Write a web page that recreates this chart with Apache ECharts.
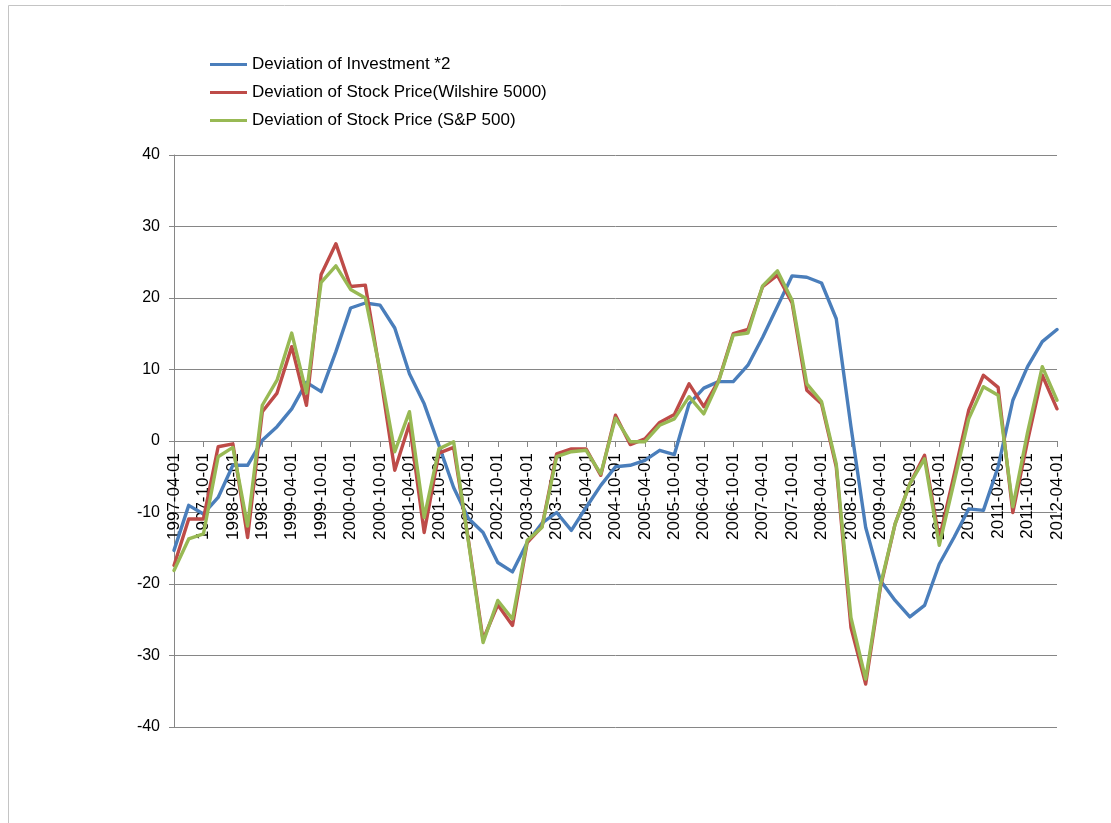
<!DOCTYPE html>
<html>
<head>
<meta charset="utf-8">
<title>Deviation of Investment and Stock Prices</title>
<script src="https://cdn.jsdelivr.net/npm/echarts@6/dist/echarts.min.js"></script>
<style>
  html, body { margin: 0; padding: 0; background: #ffffff; }
  #chart { width: 1111px; height: 823px; }
</style>
</head>
<body>
<div id="chart"></div>
<script>
// Quarterly observation dates
var quarters = [
  '1997-04-01','1997-07-01','1997-10-01','1998-01-01','1998-04-01','1998-07-01','1998-10-01','1999-01-01',
  '1999-04-01','1999-07-01','1999-10-01','2000-01-01','2000-04-01','2000-07-01','2000-10-01','2001-01-01',
  '2001-04-01','2001-07-01','2001-10-01','2002-01-01','2002-04-01','2002-07-01','2002-10-01','2003-01-01',
  '2003-04-01','2003-07-01','2003-10-01','2004-01-01','2004-04-01','2004-07-01','2004-10-01','2005-01-01',
  '2005-04-01','2005-07-01','2005-10-01','2006-01-01','2006-04-01','2006-07-01','2006-10-01','2007-01-01',
  '2007-04-01','2007-07-01','2007-10-01','2008-01-01','2008-04-01','2008-07-01','2008-10-01','2009-01-01',
  '2009-04-01','2009-07-01','2009-10-01','2010-01-01','2010-04-01','2010-07-01','2010-10-01','2011-01-01',
  '2011-04-01','2011-07-01','2011-10-01','2012-01-01','2012-04-01'
];

// Deviation of investment (scaled by 2)
var investment = [
  -15.3, -9.0, -10.2, -7.9, -3.4, -3.4, 0.1, 2.0, 4.5, 8.2, 6.9, 12.5, 18.6, 19.3, 19.0, 15.8,
  9.4, 5.2, -0.6, -6.5, -10.8, -12.8, -17.0, -18.3, -14.2, -11.5, -10.0, -12.5, -9.3, -6.2, -3.6, -3.4,
  -2.7, -1.3, -1.9, 5.2, 7.4, 8.3, 8.3, 10.6, 14.5, 18.8, 23.1, 22.9, 22.1, 17.1, 2.0, -12.1,
  -19.5, -22.3, -24.6, -23.0, -17.2, -13.5, -9.5, -9.7, -3.6, 5.7, 10.4, 13.9, 15.6
];

// Deviation of the Wilshire 5000 index
var wilshire = [
  -17.4, -10.9, -10.9, -0.8, -0.4, -13.5, 4.1, 6.7, 13.2, 5.0, 23.3, 27.6, 21.6, 21.8, 9.5, -4.1,
  2.4, -12.8, -1.7, -0.9, -13.8, -27.8, -22.9, -25.8, -14.2, -12.0, -1.8, -1.1, -1.1, -4.8, 3.6, -0.5,
  0.3, 2.6, 3.7, 8.0, 4.8, 8.4, 15.0, 15.6, 21.6, 23.2, 19.3, 7.1, 5.2, -3.6, -26.1, -34.0,
  -20.5, -11.6, -6.0, -2.0, -13.7, -4.8, 4.3, 9.2, 7.5, -10.0, 0.0, 9.2, 4.5
];

// Deviation of the S&P 500 index
var sp500 = [
  -18.1, -13.7, -13.0, -2.2, -0.9, -11.9, 5.0, 8.5, 15.1, 6.7, 22.2, 24.5, 21.2, 20.0, 9.9, -1.5,
  4.1, -10.7, -1.1, -0.1, -14.0, -28.2, -22.3, -24.9, -13.9, -12.1, -2.2, -1.5, -1.3, -4.6, 3.2, -0.1,
  -0.1, 2.2, 3.1, 6.2, 3.8, 8.3, 14.8, 15.1, 21.7, 23.8, 19.7, 8.0, 5.5, -3.2, -24.7, -33.3,
  -20.2, -11.6, -6.0, -2.5, -14.6, -5.8, 3.1, 7.6, 6.4, -9.2, 1.2, 10.4, 5.7
];

var seriesNames = [
  'Deviation of Investment *2',
  'Deviation of Stock Price(Wilshire 5000)',
  'Deviation of Stock Price (S&P 500)'
];
var seriesColors = ['#4A7EBB', '#BE4B48', '#98B954'];

var FONT = '"Liberation Sans", Arial, sans-serif';
var GRID_GREY = '#868686';

// plot box (px)
var PLOT_TOP = 155;
var PLOT_BOTTOM = 96;
var PLOT_HEIGHT = 823 - PLOT_TOP - PLOT_BOTTOM;

var chart = echarts.init(document.getElementById('chart'), null, { renderer: 'canvas' });

function lineSeries(name, data, color) {
  return {
    name: name,
    type: 'line',
    data: data,
    symbol: 'none',
    showSymbol: false,
    smooth: false,
    animation: false,
    lineStyle: { color: color, width: 3.4, cap: 'round', join: 'round' },
    itemStyle: { color: color },
    emphasis: { disabled: true }
  };
}

chart.setOption({
  backgroundColor: '#ffffff',
  animation: false,
  graphic: [{
    type: 'rect',
    shape: { x: 8.5, y: 5.5, width: 1120, height: 840 },
    style: { fill: 'none', stroke: '#c4c4c4', lineWidth: 1 },
    silent: true,
    z: -10
  }],
  legend: {
    orient: 'vertical',
    left: 210,
    top: 56,
    padding: 0,
    icon: 'rect',
    itemWidth: 37,
    itemHeight: 3,
    itemGap: 11,
    selectedMode: false,
    data: seriesNames,
    textStyle: { fontFamily: FONT, fontSize: 17, color: '#000000' }
  },
  grid: {
    left: 174,
    right: 54,
    top: PLOT_TOP,
    bottom: PLOT_BOTTOM,
    containLabel: false,
    outerBoundsMode: 'none'
  },
  xAxis: {
    type: 'category',
    data: quarters,
    boundaryGap: false,
    position: 'bottom',
    // the category axis crosses the value axis at 0 (middle of the -40..40 range)
    offset: -PLOT_HEIGHT / 2,
    axisLine: { show: true, onZero: false, lineStyle: { color: GRID_GREY, width: 1 } },
    axisTick: { show: true, interval: 1, length: 6, inside: false, lineStyle: { color: GRID_GREY } },
    axisLabel: {
      show: true,
      interval: 1,
      rotate: 90,
      margin: 12,
      padding: [7, 0, 0, 0],
      fontFamily: FONT,
      fontSize: 17,
      color: '#000000',
      hideOverlap: false
    },
    splitLine: { show: false }
  },
  yAxis: {
    type: 'value',
    min: -40,
    max: 40,
    interval: 10,
    axisLine: { show: true, lineStyle: { color: GRID_GREY, width: 1 } },
    axisTick: { show: true, length: 5, inside: false, lineStyle: { color: GRID_GREY } },
    axisLabel: { margin: 14, fontFamily: FONT, fontSize: 16, color: '#000000' },
    splitLine: { show: true, lineStyle: { color: GRID_GREY, width: 1 } }
  },
  series: [
    lineSeries(seriesNames[0], investment, seriesColors[0]),
    lineSeries(seriesNames[1], wilshire, seriesColors[1]),
    lineSeries(seriesNames[2], sp500, seriesColors[2])
  ]
});
</script>
</body>
</html>
